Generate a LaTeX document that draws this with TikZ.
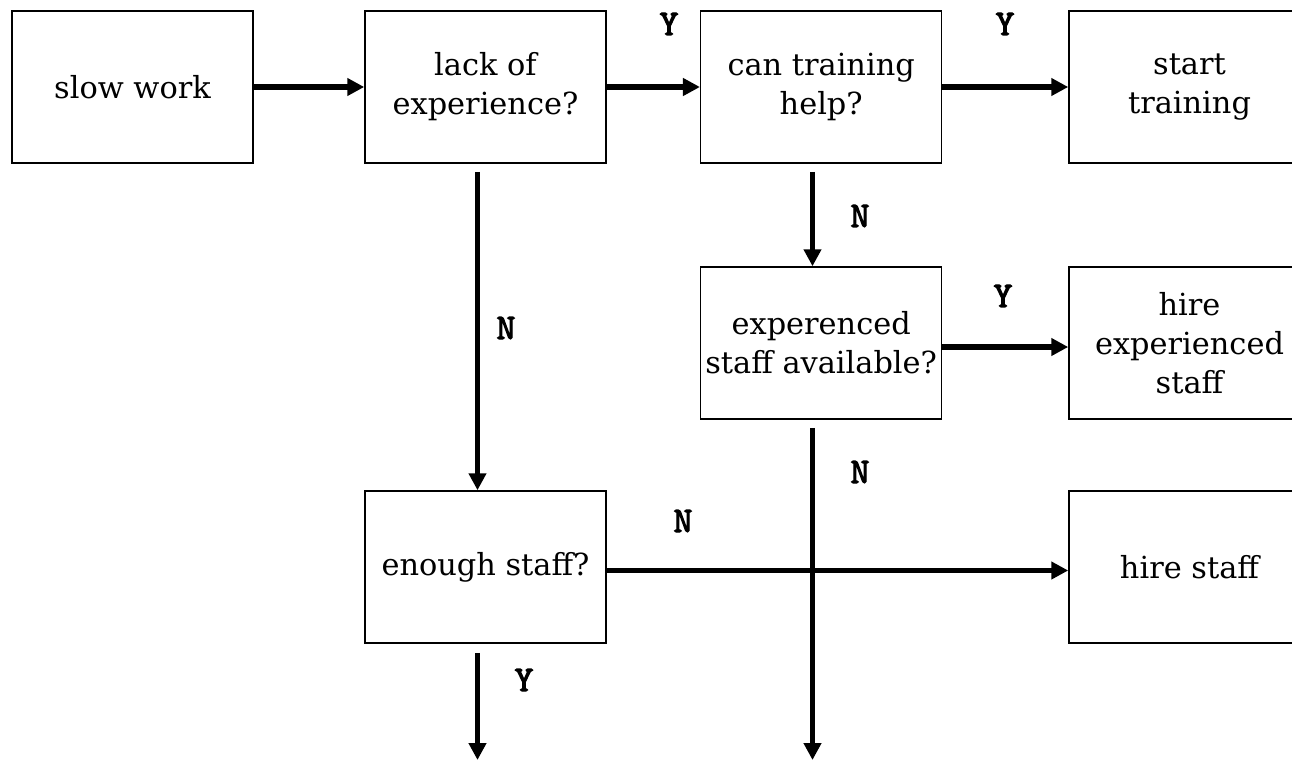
\documentclass[tikz,border=0pt]{standalone}
\usepackage{fontspec}
\setmainfont{DejaVu Serif}
\newfontfamily\lblfont{lmmono10-regular}[Extension=.otf, FakeBold=3]
\usetikzlibrary{arrows.meta,calc}
\tikzset{
  box/.style={draw=black, line width=0.75pt, minimum width=120.5pt, minimum height=76pt,
    inner sep=0pt, align=center, font=\fontsize{15.2}{19.5}\selectfont},
  conn/.style={line width=2.8pt, -{Triangle[length=8.5pt,width=8.5pt]}},
  lbl/.style={inner sep=0pt, font=\lblfont\fontsize{18}{19}\selectfont}
}
\begin{document}
\begin{tikzpicture}[x=0.5pt,y=-0.5pt]
\path[use as bounding box, clip] (0,0) rectangle (1292,760);
\node[box] (slow) at (132.5,87) {slow work};
\node[box] (lack) at (485.5,87) {lack of\\experience?};
\node[box] (can) at (821.2,87) {can training\\help?};
\node[box] (start) at (1189.5,87) {start\\training};
\node[box] (exp) at (821.2,343) {experenced\\staff available?};
\node[box] (hireexp) at (1189.5,343) {hire\\experienced\\staff};
\node[box] (enough) at (485.5,567) {enough staff?};
\node[box] (hire) at (1189.5,567) {hire staff};
\coordinate (endA) at (477.5,760);
\coordinate (endB) at (812.5,760);

\draw[conn] (slow.east) -- (lack.west);
\draw[conn] (lack.east) -- (can.west);
\draw[conn] (can.east) -- (start.west);
\draw[conn] ([yshift=-2pt]exp.east) -- ([yshift=-2pt]hireexp.west);
\draw[conn] ($(lack.south)+(-8,8)$) -- ($(enough.north)+(-8,0)$);
\draw[conn] ($(can.south)+(-8.7,8)$) -- ($(exp.north)+(-8.7,0)$);
\draw[conn] ($(exp.south)+(-8.7,8)$) -- (endB);
\draw[conn] ([yshift=-1.75pt]enough.east) -- ([yshift=-1.75pt]hire.west);
\draw[conn] ($(enough.south)+(-8,9)$) -- (endA);

\node[lbl] (y1) at (669,24) {Y};
\node[lbl] (y2) at (1005,24) {Y};
\node[lbl] (y3) at (1003,296) {Y};
\node[lbl] (n1) at (506,328) {N};
\node[lbl] (n2) at (860,216) {N};
\node[lbl] (n3) at (860,472) {N};
\node[lbl] (n4) at (683,521) {N};
\node[lbl] (y4) at (524,680) {Y};
\end{tikzpicture}
\end{document}
